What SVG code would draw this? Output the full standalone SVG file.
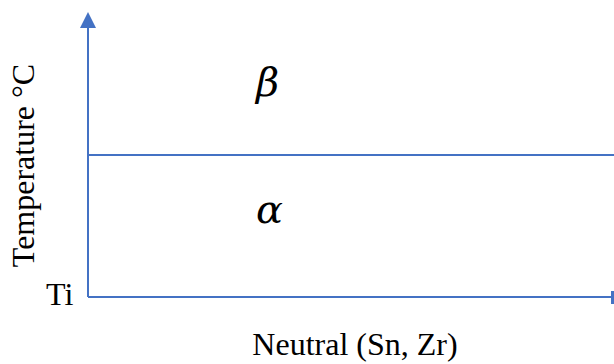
<svg xmlns="http://www.w3.org/2000/svg" width="614" height="364" viewBox="0 0 614 364">
<style>
.ax{stroke:#4472C4;stroke-width:2;fill:none}
.t{font-family:"Liberation Serif","Times New Roman",serif;font-size:32px;fill:#000}
.g{font-family:"DejaVu Serif","Liberation Serif",serif;font-style:italic;font-size:40px;fill:#000}
</style>
<rect width="614" height="364" fill="#fff"/>
<g id="connectors">
<line class="ax" x1="88" y1="297" x2="88" y2="28"/>
<path d="M80,28 L96,28 L88,12 Z" fill="#4472C4"/>
<line class="ax" x1="88" y1="297" x2="614" y2="297"/>
<rect x="611" y="291" width="3" height="13" fill="#4472C4"/>
<line class="ax" x1="89" y1="155" x2="614" y2="155"/>
</g>
<g id="ylabel"><text class="t" transform="translate(34,165.5) rotate(-90)" text-anchor="middle">Temperature °C</text></g>
<g id="xlabel"><text class="t" x="355" y="355" text-anchor="middle">Neutral (Sn, Zr)</text></g>
<g id="ti"><text class="t" x="46" y="305">Ti</text></g>
<g id="beta"><text class="g" x="256" y="96">β</text></g>
<g id="alpha"><text class="g" x="256" y="223">α</text></g>
</svg>
